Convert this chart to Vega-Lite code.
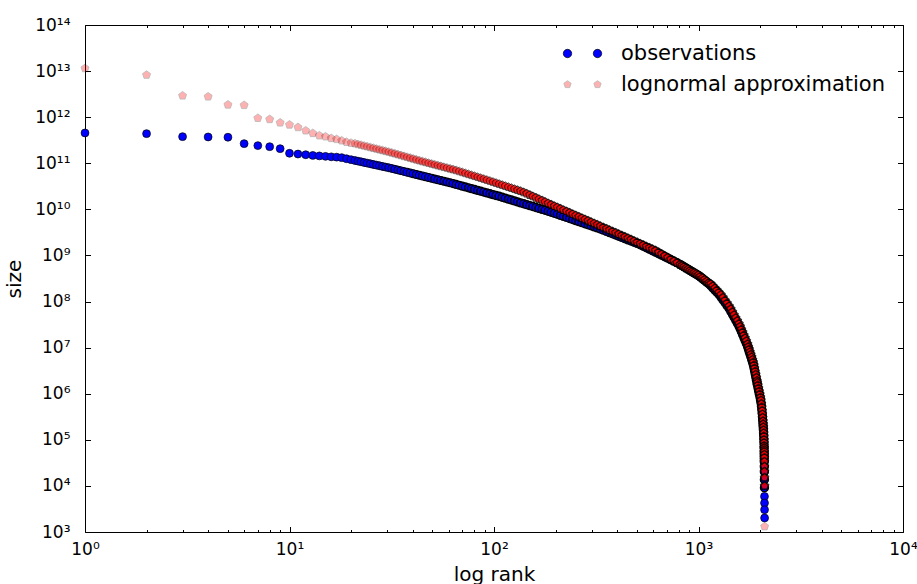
{
  "$schema": "https://vega.github.io/schema/vega-lite/v6.json",
  "width": 818,
  "height": 507,
  "autosize": {"type": "none"},
  "padding": {"left": 85, "top": 25, "right": 14, "bottom": 52},
  "background": "white",
  "config": {
    "view": {"stroke": null},
    "axis": {
      "domainColor": "black", "domainWidth": 1, "tickColor": "black", "tickWidth": 1,
      "labelColor": "black", "titleColor": "black", "labelFont": "DejaVu Sans", "titleFont": "DejaVu Sans",
      "labelFontSize": 17, "titleFontSize": 20, "titleFontWeight": "normal", "grid": false
    }
  },
  "datasets": {
    "obs": [
      {"lr":0,"ls":11.658},{"lr":0.30103,"ls":11.643},{"lr":0.47712,"ls":11.578},{"lr":0.60206,"ls":11.571},{"lr":0.69897,"ls":11.565},{"lr":0.77815,"ls":11.426},{"lr":0.8451,"ls":11.383},{"lr":0.90309,"ls":11.36},{"lr":0.95424,"ls":11.317},{"lr":1,"ls":11.217},{"lr":1.04139,"ls":11.2},{"lr":1.07918,"ls":11.185},{"lr":1.11394,"ls":11.17},{"lr":1.14613,"ls":11.16},{"lr":1.17609,"ls":11.15},{"lr":1.20412,"ls":11.14},{"lr":1.23045,"ls":11.133},{"lr":1.25527,"ls":11.122},{"lr":1.27875,"ls":11.099},{"lr":1.30103,"ls":11.078},
      {"lr":1.32,"ls":11.06},{"lr":1.335,"ls":11.046},{"lr":1.35,"ls":11.032},{"lr":1.365,"ls":11.017},{"lr":1.38,"ls":11.003},{"lr":1.395,"ls":10.989},{"lr":1.41,"ls":10.974},{"lr":1.425,"ls":10.96},{"lr":1.44,"ls":10.946},{"lr":1.455,"ls":10.931},{"lr":1.47,"ls":10.917},{"lr":1.485,"ls":10.903},{"lr":1.5,"ls":10.887},{"lr":1.515,"ls":10.871},{"lr":1.53,"ls":10.855},{"lr":1.545,"ls":10.838},{"lr":1.56,"ls":10.822},{"lr":1.575,"ls":10.806},{"lr":1.59,"ls":10.79},{"lr":1.605,"ls":10.773},{"lr":1.62,"ls":10.757},{"lr":1.635,"ls":10.741},{"lr":1.65,"ls":10.724},{"lr":1.665,"ls":10.708},{"lr":1.68,"ls":10.692},{"lr":1.695,"ls":10.676},{"lr":1.71,"ls":10.659},{"lr":1.725,"ls":10.643},{"lr":1.74,"ls":10.627},{"lr":1.755,"ls":10.61},{"lr":1.77,"ls":10.594},{"lr":1.785,"ls":10.578},{"lr":1.8,"ls":10.559},{"lr":1.815,"ls":10.541},{"lr":1.83,"ls":10.523},{"lr":1.845,"ls":10.504},{"lr":1.86,"ls":10.486},{"lr":1.875,"ls":10.468},{"lr":1.89,"ls":10.449},{"lr":1.905,"ls":10.431},{"lr":1.92,"ls":10.412},{"lr":1.935,"ls":10.394},{"lr":1.95,"ls":10.376},{"lr":1.965,"ls":10.357},{"lr":1.98,"ls":10.339},{"lr":1.995,"ls":10.321},{"lr":2.01,"ls":10.302},{"lr":2.025,"ls":10.284},{"lr":2.04,"ls":10.264},{"lr":2.055,"ls":10.244},{"lr":2.07,"ls":10.223},{"lr":2.085,"ls":10.203},{"lr":2.1,"ls":10.183},{"lr":2.115,"ls":10.163},{"lr":2.13,"ls":10.142},{"lr":2.145,"ls":10.122},{"lr":2.16,"ls":10.102},{"lr":2.175,"ls":10.082},{"lr":2.19,"ls":10.061},{"lr":2.205,"ls":10.041},{"lr":2.22,"ls":10.021},{"lr":2.235,"ls":10.001},{"lr":2.25,"ls":9.98},{"lr":2.265,"ls":9.96},{"lr":2.28,"ls":9.938},{"lr":2.295,"ls":9.916},{"lr":2.31,"ls":9.893},{"lr":2.325,"ls":9.87},{"lr":2.34,"ls":9.848},{"lr":2.355,"ls":9.825},{"lr":2.37,"ls":9.802},{"lr":2.385,"ls":9.78},{"lr":2.4,"ls":9.757},{"lr":2.415,"ls":9.734},{"lr":2.43,"ls":9.712},{"lr":2.445,"ls":9.689},{"lr":2.46,"ls":9.667},{"lr":2.475,"ls":9.644},{"lr":2.49,"ls":9.621},{"lr":2.505,"ls":9.599},{"lr":2.52,"ls":9.575},{"lr":2.535,"ls":9.549},{"lr":2.55,"ls":9.522},{"lr":2.565,"ls":9.496},{"lr":2.58,"ls":9.47},{"lr":2.595,"ls":9.444},{"lr":2.61,"ls":9.418},{"lr":2.625,"ls":9.392},{"lr":2.64,"ls":9.365},{"lr":2.655,"ls":9.339},{"lr":2.67,"ls":9.313},{"lr":2.685,"ls":9.287},{"lr":2.7,"ls":9.261},{"lr":2.715,"ls":9.233},{"lr":2.73,"ls":9.2},{"lr":2.745,"ls":9.168},{"lr":2.76,"ls":9.135},{"lr":2.775,"ls":9.102},{"lr":2.79,"ls":9.07},{"lr":2.805,"ls":9.037},{"lr":2.82,"ls":9.005},{"lr":2.835,"ls":8.972},{"lr":2.85,"ls":8.939},{"lr":2.865,"ls":8.907},{"lr":2.88,"ls":8.874},{"lr":2.895,"ls":8.841},{"lr":2.91,"ls":8.807},{"lr":2.92,"ls":8.779},{"lr":2.93,"ls":8.752},{"lr":2.94,"ls":8.724},{"lr":2.95,"ls":8.697},{"lr":2.96,"ls":8.669},{"lr":2.97,"ls":8.642},{"lr":2.98,"ls":8.614},{"lr":2.99,"ls":8.587},{"lr":3.0,"ls":8.559},{"lr":3.01,"ls":8.527},{"lr":3.02,"ls":8.492},{"lr":3.03,"ls":8.456},{"lr":3.04,"ls":8.42},{"lr":3.05,"ls":8.385},{"lr":3.06,"ls":8.342},{"lr":3.07,"ls":8.295},{"lr":3.08,"ls":8.249},{"lr":3.09,"ls":8.202},{"lr":3.1,"ls":8.156},{"lr":3.11,"ls":8.097},{"lr":3.12,"ls":8.035},{"lr":3.13,"ls":7.973},{"lr":3.14,"ls":7.91},{"lr":3.15,"ls":7.848},{"lr":3.158,"ls":7.786},{"lr":3.166,"ls":7.722},{"lr":3.174,"ls":7.658},{"lr":3.182,"ls":7.594},{"lr":3.19,"ls":7.53},{"lr":3.198,"ls":7.466},{"lr":3.204,"ls":7.408},{"lr":3.21,"ls":7.344},{"lr":3.216,"ls":7.281},{"lr":3.222,"ls":7.218},{"lr":3.228,"ls":7.155},{"lr":3.234,"ls":7.092},{"lr":3.24,"ls":7.025},{"lr":3.244,"ls":6.968},{"lr":3.248,"ls":6.912},{"lr":3.252,"ls":6.856},{"lr":3.256,"ls":6.8},{"lr":3.26,"ls":6.743},{"lr":3.264,"ls":6.687},{"lr":3.268,"ls":6.631},{"lr":3.271,"ls":6.566},{"lr":3.274,"ls":6.499},{"lr":3.277,"ls":6.432},{"lr":3.28,"ls":6.365},{"lr":3.283,"ls":6.299},{"lr":3.286,"ls":6.232},
      {"lr":3.28788,"ls":6.194},{"lr":3.29076,"ls":6.129},{"lr":3.29362,"ls":6.064},{"lr":3.29692,"ls":5.999},{"lr":3.30018,"ls":5.934},{"lr":3.30299,"ls":5.869},{"lr":3.30557,"ls":5.804},{"lr":3.30771,"ls":5.728},{"lr":3.30963,"ls":5.652},{"lr":3.31112,"ls":5.576},{"lr":3.3126,"ls":5.5},{"lr":3.31387,"ls":5.425},{"lr":3.31513,"ls":5.349},{"lr":3.31618,"ls":5.284},{"lr":3.31723,"ls":5.219},{"lr":3.31806,"ls":5.154},{"lr":3.3189,"ls":5.089},{"lr":3.31952,"ls":5.013},{"lr":3.32015,"ls":4.937},{"lr":3.32057,"ls":4.839},{"lr":3.32098,"ls":4.742},{"lr":3.32118,"ls":4.67},{"lr":3.32139,"ls":4.596},{"lr":3.3216,"ls":4.525},{"lr":3.32181,"ls":4.416},{"lr":3.32201,"ls":4.308},{"lr":3.32222,"ls":4.135},{"lr":3.32242,"ls":3.961},{"lr":3.32263,"ls":3.772},{"lr":3.32284,"ls":3.629},{"lr":3.32304,"ls":3.484},{"lr":3.32325,"ls":3.304}
    ],
    "logn": [
      {"lr":0,"ls":13.06},{"lr":0.30103,"ls":12.916},{"lr":0.47712,"ls":12.466},{"lr":0.60206,"ls":12.445},{"lr":0.69897,"ls":12.27},{"lr":0.77815,"ls":12.26},{"lr":0.8451,"ls":11.98},{"lr":0.90309,"ls":11.955},{"lr":0.95424,"ls":11.88},{"lr":1,"ls":11.835},{"lr":1.04139,"ls":11.78},{"lr":1.07918,"ls":11.708},{"lr":1.11394,"ls":11.652},{"lr":1.14613,"ls":11.6},{"lr":1.17609,"ls":11.578},{"lr":1.20412,"ls":11.543},{"lr":1.23045,"ls":11.522},{"lr":1.25527,"ls":11.491},{"lr":1.27875,"ls":11.46},{"lr":1.30103,"ls":11.44},
      {"lr":1.32,"ls":11.428},{"lr":1.335,"ls":11.411},{"lr":1.35,"ls":11.395},{"lr":1.365,"ls":11.378},{"lr":1.38,"ls":11.362},{"lr":1.395,"ls":11.345},{"lr":1.41,"ls":11.329},{"lr":1.425,"ls":11.312},{"lr":1.44,"ls":11.295},{"lr":1.455,"ls":11.279},{"lr":1.47,"ls":11.262},{"lr":1.485,"ls":11.246},{"lr":1.5,"ls":11.227},{"lr":1.515,"ls":11.209},{"lr":1.53,"ls":11.19},{"lr":1.545,"ls":11.171},{"lr":1.56,"ls":11.152},{"lr":1.575,"ls":11.133},{"lr":1.59,"ls":11.115},{"lr":1.605,"ls":11.096},{"lr":1.62,"ls":11.077},{"lr":1.635,"ls":11.058},{"lr":1.65,"ls":11.039},{"lr":1.665,"ls":11.022},{"lr":1.68,"ls":11.004},{"lr":1.695,"ls":10.986},{"lr":1.71,"ls":10.969},{"lr":1.725,"ls":10.951},{"lr":1.74,"ls":10.934},{"lr":1.755,"ls":10.916},{"lr":1.77,"ls":10.899},{"lr":1.785,"ls":10.881},{"lr":1.8,"ls":10.864},{"lr":1.815,"ls":10.846},{"lr":1.83,"ls":10.825},{"lr":1.845,"ls":10.804},{"lr":1.86,"ls":10.783},{"lr":1.875,"ls":10.762},{"lr":1.89,"ls":10.741},{"lr":1.905,"ls":10.721},{"lr":1.92,"ls":10.7},{"lr":1.935,"ls":10.679},{"lr":1.95,"ls":10.658},{"lr":1.965,"ls":10.637},{"lr":1.98,"ls":10.616},{"lr":1.995,"ls":10.594},{"lr":2.01,"ls":10.572},{"lr":2.025,"ls":10.55},{"lr":2.04,"ls":10.528},{"lr":2.055,"ls":10.506},{"lr":2.07,"ls":10.484},{"lr":2.085,"ls":10.462},{"lr":2.1,"ls":10.44},{"lr":2.115,"ls":10.417},{"lr":2.13,"ls":10.395},{"lr":2.145,"ls":10.371},{"lr":2.16,"ls":10.342},{"lr":2.175,"ls":10.312},{"lr":2.19,"ls":10.282},{"lr":2.205,"ls":10.252},{"lr":2.22,"ls":10.222},{"lr":2.235,"ls":10.192},{"lr":2.25,"ls":10.162},{"lr":2.265,"ls":10.132},{"lr":2.28,"ls":10.102},{"lr":2.295,"ls":10.072},{"lr":2.31,"ls":10.043},{"lr":2.325,"ls":10.014},{"lr":2.34,"ls":9.985},{"lr":2.355,"ls":9.956},{"lr":2.37,"ls":9.927},{"lr":2.385,"ls":9.898},{"lr":2.4,"ls":9.869},{"lr":2.415,"ls":9.84},{"lr":2.43,"ls":9.811},{"lr":2.445,"ls":9.782},{"lr":2.46,"ls":9.753},{"lr":2.475,"ls":9.724},{"lr":2.49,"ls":9.695},{"lr":2.505,"ls":9.666},{"lr":2.52,"ls":9.637},{"lr":2.535,"ls":9.608},{"lr":2.55,"ls":9.579},{"lr":2.565,"ls":9.55},{"lr":2.58,"ls":9.521},{"lr":2.595,"ls":9.492},{"lr":2.61,"ls":9.463},{"lr":2.625,"ls":9.434},{"lr":2.64,"ls":9.404},{"lr":2.655,"ls":9.375},{"lr":2.67,"ls":9.345},{"lr":2.685,"ls":9.315},{"lr":2.7,"ls":9.285},{"lr":2.715,"ls":9.255},{"lr":2.73,"ls":9.225},{"lr":2.745,"ls":9.195},{"lr":2.76,"ls":9.166},{"lr":2.775,"ls":9.136},{"lr":2.79,"ls":9.106},{"lr":2.805,"ls":9.069},{"lr":2.82,"ls":9.031},{"lr":2.835,"ls":8.993},{"lr":2.85,"ls":8.955},{"lr":2.865,"ls":8.917},{"lr":2.88,"ls":8.879},{"lr":2.895,"ls":8.841},{"lr":2.91,"ls":8.803},{"lr":2.92,"ls":8.778},{"lr":2.93,"ls":8.753},{"lr":2.94,"ls":8.727},{"lr":2.95,"ls":8.702},{"lr":2.96,"ls":8.677},{"lr":2.97,"ls":8.652},{"lr":2.98,"ls":8.627},{"lr":2.99,"ls":8.603},{"lr":3.0,"ls":8.578},{"lr":3.01,"ls":8.547},{"lr":3.02,"ls":8.512},{"lr":3.03,"ls":8.476},{"lr":3.04,"ls":8.44},{"lr":3.05,"ls":8.405},{"lr":3.06,"ls":8.382},{"lr":3.07,"ls":8.335},{"lr":3.08,"ls":8.289},{"lr":3.09,"ls":8.242},{"lr":3.1,"ls":8.196},{"lr":3.11,"ls":8.147},{"lr":3.12,"ls":8.085},{"lr":3.13,"ls":8.023},{"lr":3.14,"ls":7.96},{"lr":3.15,"ls":7.898},{"lr":3.158,"ls":7.836},{"lr":3.166,"ls":7.772},{"lr":3.174,"ls":7.708},{"lr":3.182,"ls":7.644},{"lr":3.19,"ls":7.58},{"lr":3.198,"ls":7.516},{"lr":3.204,"ls":7.458},{"lr":3.21,"ls":7.394},{"lr":3.216,"ls":7.331},{"lr":3.222,"ls":7.268},{"lr":3.228,"ls":7.205},{"lr":3.234,"ls":7.142},{"lr":3.24,"ls":7.075},{"lr":3.244,"ls":7.018},{"lr":3.248,"ls":6.962},{"lr":3.252,"ls":6.906},{"lr":3.256,"ls":6.85},{"lr":3.26,"ls":6.793},{"lr":3.264,"ls":6.737},{"lr":3.268,"ls":6.681},{"lr":3.271,"ls":6.616},{"lr":3.274,"ls":6.549},{"lr":3.277,"ls":6.482},{"lr":3.28,"ls":6.415},{"lr":3.283,"ls":6.349},{"lr":3.286,"ls":6.282},
      {"lr":3.28788,"ls":6.24},{"lr":3.29076,"ls":6.18},{"lr":3.29362,"ls":6.115},{"lr":3.29692,"ls":6.05},{"lr":3.30018,"ls":5.985},{"lr":3.30299,"ls":5.92},{"lr":3.30557,"ls":5.855},{"lr":3.30771,"ls":5.78},{"lr":3.30963,"ls":5.705},{"lr":3.31112,"ls":5.63},{"lr":3.3126,"ls":5.555},{"lr":3.31387,"ls":5.48},{"lr":3.31513,"ls":5.405},{"lr":3.31618,"ls":5.34},{"lr":3.31723,"ls":5.275},{"lr":3.31806,"ls":5.21},{"lr":3.3189,"ls":5.145},{"lr":3.31952,"ls":5.075},{"lr":3.32015,"ls":5.0},{"lr":3.32057,"ls":4.935},{"lr":3.32098,"ls":4.87},{"lr":3.32118,"ls":4.825},{"lr":3.32139,"ls":4.78},{"lr":3.3216,"ls":4.74},{"lr":3.32181,"ls":4.68},{"lr":3.32201,"ls":4.61},{"lr":3.32222,"ls":4.525},{"lr":3.32242,"ls":4.42},{"lr":3.32263,"ls":4.31},{"lr":3.32284,"ls":4.18},{"lr":3.32304,"ls":4.0},{"lr":3.32325,"ls":3.12}
    ]
  },
  "layer": [
    {
      "data": {"name": "obs"},
      "mark": {"type": "point", "shape": "circle", "filled": true, "size": 62, "opacity": 1, "stroke": "black"},
      "encoding": {
        "x": {"field": "lr", "type": "quantitative", "scale": {"domain": [0, 4], "nice": false, "zero": false},
          "axis": {"orient": "bottom", "title": "log rank", "titlePadding": 4,
            "values": [0,0.30103,0.47712,0.60206,0.69897,0.77815,0.8451,0.90309,0.95424,1,1.30103,1.47712,1.60206,1.69897,1.77815,1.8451,1.90309,1.95424,2,2.30103,2.47712,2.60206,2.69897,2.77815,2.8451,2.90309,2.95424,3,3.30103,3.47712,3.60206,3.69897,3.77815,3.8451,3.90309,3.95424,4],
            "labelExpr": "abs(datum.value - round(datum.value)) < 0.001 ? '10' + ['⁰','¹','²','³','⁴'][round(datum.value)] : ''",
            "tickSize": {"condition": {"test": "abs(datum.value - round(datum.value)) < 0.001", "value": -5.5}, "value": -2.5},
            "labelPadding": 14.5, "labelFlush": false, "labelOverlap": false}},
        "y": {"field": "ls", "type": "quantitative", "scale": {"domain": [3, 14], "nice": false, "zero": false},
          "axis": {"orient": "left", "title": "size", "titlePadding": 10,
            "values": [3,4,5,6,7,8,9,10,11,12,13,14],
            "labelExpr": "'10' + (datum.value >= 10 ? '¹' : '') + ['⁰','¹','²','³','⁴','⁵','⁶','⁷','⁸','⁹'][round(datum.value) % 10]",
            "tickSize": -5.5,
            "labelPadding": 20.5, "labelFlush": false, "labelOverlap": false}},
        "strokeWidth": {"condition": {"test": "datum.ls < 3.9", "value": 0.7},
          "field": "lr", "type": "quantitative",
          "scale": {"domain": [1.3, 2.0], "range": [0.7, 1.5], "clamp": true, "zero": false}, "legend": null},
        "color": {"datum": "observations",
          "scale": {"domain": ["observations", "lognormal approximation"], "range": ["#0000ff", "#ff0000"]},
          "legend": {"orient": "none", "legendX": 487, "legendY": 18, "title": null, "padding": 0,
            "labelFont": "DejaVu Sans", "labelFontSize": 21, "labelColor": "black", "labelLimit": 600, "symbolSize": 64,
            "rowPadding": 9, "labelOffset": 28, "symbolStrokeWidth": 0.7, "symbolStrokeColor": "black",
            "symbolType": {"expr": "datum.value === 'observations' ? 'M-4.8,0A1.05,1.05,0,1,0,-2.7,0A1.05,1.05,0,1,0,-4.8,0ZM2.7,0A1.05,1.05,0,1,0,4.8,0A1.05,1.05,0,1,0,2.7,0Z' : 'M-3.75,-0.96L-2.837,-0.297L-3.186,0.777L-4.314,0.777L-4.663,-0.297ZM3.75,-0.96L4.663,-0.297L4.314,0.777L3.186,0.777L2.837,-0.297Z'"},
            "symbolOpacity": {"expr": "datum.value === 'observations' ? 1 : 0.3"}}}
      }
    },
    {
      "data": {"name": "logn"},
      "mark": {"type": "point", "shape": "M0,-1L0.951,-0.309L0.588,0.809L-0.588,0.809L-0.951,-0.309Z", "filled": true, "size": 71, "stroke": "black"},
      "encoding": {
        "x": {"field": "lr", "type": "quantitative",
          "axis": {"orient": "top", "title": null, "labels": false,
            "values": [0,0.30103,0.47712,0.60206,0.69897,0.77815,0.8451,0.90309,0.95424,1,1.30103,1.47712,1.60206,1.69897,1.77815,1.8451,1.90309,1.95424,2,2.30103,2.47712,2.60206,2.69897,2.77815,2.8451,2.90309,2.95424,3,3.30103,3.47712,3.60206,3.69897,3.77815,3.8451,3.90309,3.95424,4],
            "tickSize": {"condition": {"test": "abs(datum.value - round(datum.value)) < 0.001", "value": -5.5}, "value": -2.5}}},
        "y": {"field": "ls", "type": "quantitative",
          "axis": {"orient": "right", "title": null, "labels": false,
            "values": [3,4,5,6,7,8,9,10,11,12,13,14],
            "tickSize": -5.5}},
        "opacity": {"condition": {"test": "datum.ls < 3.5", "value": 0.3},
          "field": "lr", "type": "quantitative",
          "scale": {"domain": [1.3, 2.3], "range": [0.3, 0.8], "clamp": true, "zero": false}, "legend": null},
        "strokeWidth": {"condition": {"test": "datum.ls < 3.5", "value": 0.7},
          "field": "lr", "type": "quantitative",
          "scale": {"domain": [1.6, 2.8], "range": [0.7, 1.4], "clamp": true, "zero": false}, "legend": null},
        "color": {"datum": "lognormal approximation"}
      }
    }
  ],
  "resolve": {"axis": {"x": "independent", "y": "independent"}, "scale": {"strokeWidth": "independent", "opacity": "independent"}}
}
